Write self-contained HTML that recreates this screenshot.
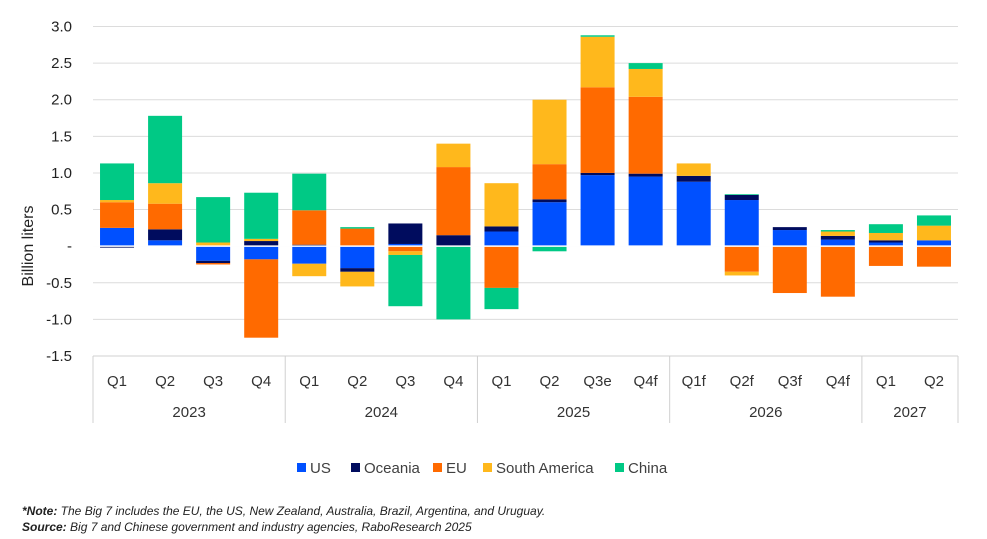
<!DOCTYPE html>
<html><head><meta charset="utf-8"><style>
body{margin:0;background:#fff;font-family:"Liberation Sans",sans-serif;}
svg{display:block}
</style></head><body>
<svg width="987" height="539" id="c">
<g id="grid"></g><g id="bars"></g><g id="axis"></g>
<text transform="translate(33,246) rotate(-90)" text-anchor="middle" font-size="16" fill="#222">Billion liters</text>
<g id="legend"></g>
<text x="22" y="515" font-size="12" font-style="italic" fill="#222"><tspan font-weight="bold">*Note:</tspan> The Big 7 includes the EU, the US, New Zealand, Australia, Brazil, Argentina, and Uruguay.</text>
<text x="22" y="531" font-size="12" font-style="italic" fill="#222"><tspan font-weight="bold">Source:</tspan> Big 7 and Chinese government and industry agencies, RaboResearch 2025</text>
</svg>
<script>
const quarters=["Q1","Q2","Q3","Q4","Q1","Q2","Q3","Q4","Q1","Q2","Q3e","Q4f","Q1f","Q2f","Q3f","Q4f","Q1","Q2"];
const years=[["2023",4],["2024",4],["2025",4],["2026",4],["2027",2]];
const seriesNames=["US","Oceania","EU","South America","China"];
const colors=["#0050ff","#000c5e","#ff6a00","#ffb81c","#00c985"];
const us=[0.25,0.08,-0.2,-0.18,-0.24,-0.3,0.03,0,0.2,0.6,0.97,0.95,0.88,0.63,0.22,0.09,0.05,0.08];
const oceania=[-0.02,0.15,-0.03,0.07,0.02,-0.05,0.28,0.15,0.07,0.04,0.03,0.04,0.08,0.07,0.04,0.05,0.03,0];
const eu=[0.35,0.35,-0.02,-1.07,0.47,0.24,-0.07,0.93,-0.57,0.48,1.17,1.05,0,-0.35,-0.64,-0.69,-0.27,-0.28];
const southAmerica=[0.03,0.28,0.05,0.03,-0.17,-0.2,-0.05,0.32,0.59,0.88,0.69,0.38,0.17,-0.05,0,0.06,0.1,0.2];
const china=[0.5,0.92,0.62,0.63,0.5,0.02,-0.7,-1.0,-0.29,-0.07,0.02,0.08,0,0.01,0,0.02,0.12,0.14];
const yTicks=[3,2.5,2,1.5,1,0.5,0,-0.5,-1,-1.5];
const yTickLabels=["3.0","2.5","2.0","1.5","1.0","0.5","-","-0.5","-1.0","-1.5"];
const NS="http://www.w3.org/2000/svg";
const X0=93,X1=958,yTop=26.5,yBot=356,vMax=3,vMin=-1.5;
const y=v=>yTop+(vMax-v)/(vMax-vMin)*(yBot-yTop);
const bw=(X1-X0)/quarters.length;
const xc=i=>X0+bw*(i+0.5);
function mk(t,a,p){const e=document.createElementNS(NS,t);for(const k in a)e.setAttribute(k,a[k]);(p||document.getElementById('c')).appendChild(e);return e;}
const grid=document.getElementById('grid');
yTicks.forEach((v,i)=>{
 const l=mk('line',{x1:X0,x2:X1,y1:y(v),y2:y(v),stroke:'#dcdcdc','stroke-width':1},grid);
 
 
 const t=mk('text',{x:72,y:y(v)+5,'text-anchor':'end','font-size':15,fill:'#222'},grid);
 t.textContent=yTickLabels[i];
 
 
});
const bars=document.getElementById('bars');
const data=[us,oceania,eu,southAmerica,china];
quarters.forEach((q,i)=>{
 let pos=0,neg=0;
 data.forEach((s,k)=>{
  const v=s[i];if(!v)return;
  let a,b;
  if(v>0){a=pos;b=pos+v;pos=b;}else{a=neg;b=neg+v;neg=b;}
  const r=mk('rect',{x:xc(i)-17,width:34,y:Math.min(y(a),y(b)),height:Math.abs(y(a)-y(b)),fill:colors[k]},bars);
  
  
 });
});
mk('line',{x1:X0,x2:X1,y1:y(0),y2:y(0),stroke:'#fff','stroke-width':1.5},bars);
const ax=document.getElementById('axis');
mk('line',{x1:X0,x2:X1,y1:yBot,y2:yBot,stroke:'#d0d0d0'},ax);
quarters.forEach((q,i)=>{
 const t=mk('text',{x:xc(i),y:386,'text-anchor':'middle','font-size':15,fill:'#333'},ax);
 t.textContent=q;
 
 
});
let idx=0;
mk('line',{x1:X0,x2:X0,y1:yBot,y2:423,stroke:'#d0d0d0'},ax);
years.forEach(([yr,n])=>{
 const t=mk('text',{x:X0+bw*(idx+n/2),y:417,'text-anchor':'middle','font-size':15,fill:'#333'},ax);
 t.textContent=yr;
 
 
 idx+=n;
 mk('line',{x1:X0+bw*idx,x2:X0+bw*idx,y1:yBot,y2:423,stroke:'#d0d0d0'},ax);
});
const lg=document.getElementById('legend');
const lx=[297,351,433,483,615];
seriesNames.forEach((n,k)=>{
 const r=mk('rect',{x:lx[k],y:463,width:9,height:9,fill:colors[k]},lg);
 
 
 const t=mk('text',{x:lx[k]+13,y:473,'font-size':15,fill:'#404040'},lg);
 t.textContent=n;
 
 
});
</script>
</body></html>
